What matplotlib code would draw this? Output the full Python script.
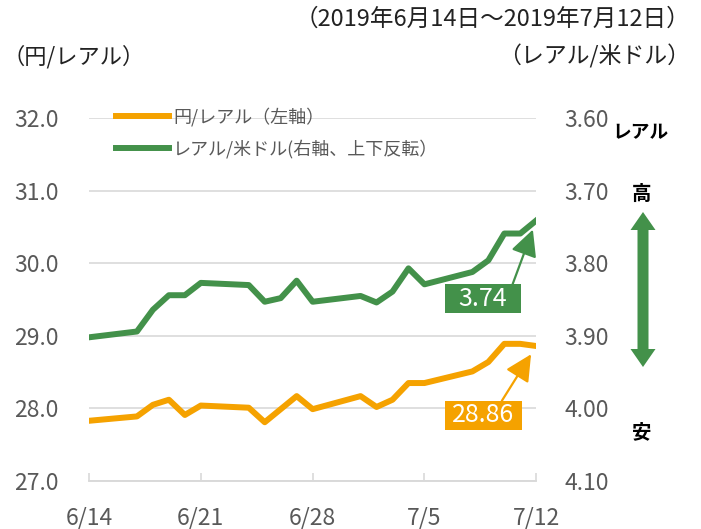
import matplotlib
matplotlib.use("Agg")
import matplotlib.pyplot as plt
import matplotlib.patches as mpatches
import pandas as pd

plt.rcParams['font.family'] = ['Noto Sans CJK JP', 'DejaVu Sans']

dates = ["2019-06-14", "2019-06-17", "2019-06-18", "2019-06-19", "2019-06-20", "2019-06-21",
         "2019-06-24", "2019-06-25", "2019-06-26", "2019-06-27", "2019-06-28",
         "2019-07-01", "2019-07-02", "2019-07-03", "2019-07-04", "2019-07-05",
         "2019-07-08", "2019-07-09", "2019-07-10", "2019-07-11", "2019-07-12"]
jpy_brl = [27.83, 27.89, 28.05, 28.12, 27.91, 28.04,
           28.01, 27.81, 27.99, 28.17, 27.99,
           28.17, 28.02, 28.12, 28.35, 28.35,
           28.51, 28.64, 28.89, 28.89, 28.86]
brl_usd = [3.902, 3.894, 3.864, 3.844, 3.844, 3.827,
           3.830, 3.853, 3.848, 3.824, 3.853,
           3.845, 3.854, 3.839, 3.807, 3.829,
           3.812, 3.796, 3.759, 3.759, 3.741]
xtick_dates = ["2019-06-14", "2019-06-21", "2019-06-28", "2019-07-05", "2019-07-12"]
xtick_labels = ["6/14", "6/21", "6/28", "7/5", "7/12"]
left_ticks = [27.0, 28.0, 29.0, 30.0, 31.0, 32.0]
right_ticks = [3.60, 3.70, 3.80, 3.90, 4.00, 4.10]

x = pd.to_datetime(dates)
xt = pd.to_datetime(xtick_dates)

ORANGE = '#F5A200'
GREEN = '#43914A'
GRAY = '#595959'
GRID = '#D9D9D9'

fig = plt.figure(figsize=(7.01, 5.29), dpi=100)
ax = fig.add_axes([0.127, 0.0907, 0.638, 0.686])
ax2 = ax.twinx()

l1, = ax.plot(x, jpy_brl, color=ORANGE, lw=4.3, solid_joinstyle='round', label='円/レアル（左軸）', zorder=3)
l2, = ax2.plot(x, brl_usd, color=GREEN, lw=4.3, solid_joinstyle='round', label='レアル/米ドル(右軸、上下反転）', zorder=3)

ax.set_ylim(27.0, 32.0)
ax2.set_ylim(4.10, 3.60)
ax.set_xlim(xt[0], xt[-1])
ax.set_yticks(left_ticks)
ax.set_yticklabels([f"{v:.1f}" for v in left_ticks])
ax2.set_yticks(right_ticks)
ax2.set_yticklabels([f"{v:.2f}" for v in right_ticks])
ax.set_xticks(xt)
ax.set_xticklabels(xtick_labels)

ax.grid(axis='y', color=GRID, lw=1.2)
ax.set_axisbelow(True)
for a in (ax, ax2):
    for s in ('top', 'left', 'right'):
        a.spines[s].set_visible(False)
    a.spines['bottom'].set_color(GRID)
    a.spines['bottom'].set_linewidth(1.2)
ax.tick_params(axis='y', length=0, labelsize=16.5, labelcolor=GRAY, pad=22)
ax2.tick_params(axis='y', length=0, labelsize=16.5, labelcolor=GRAY, pad=20)
ax.tick_params(axis='x', direction='in', length=6, color=GRID, width=1.2, labelsize=16.5, labelcolor=GRAY, pad=18)

leg = ax.legend(handles=[l1, l2], loc='upper left', bbox_to_anchor=(0.025, 1.075), frameon=False,
                fontsize=13, handlelength=2.9, handletextpad=0.25, labelspacing=0.75)
for t in leg.get_texts():
    t.set_color(GRAY)

# annotation boxes (axes fraction)
def label_box(axis, text, color, cx, cy, xy, start):
    w, h = 0.170, 0.080
    axis.add_patch(mpatches.Rectangle((cx - w / 2, cy - h / 2), w, h, transform=axis.transAxes,
                                      fc=color, ec='none', zorder=5))
    axis.text(cx, cy, text, transform=axis.transAxes, ha='center', va='center',
              fontsize=18, color='white', zorder=6)
    axis.annotate('', xy=xy, xytext=start, textcoords='axes fraction',
                  arrowprops=dict(arrowstyle='-|>,head_length=0.9,head_width=0.45', color=color,
                                  lw=1.6, mutation_scale=18, shrinkA=0, shrinkB=7), zorder=6)

label_box(ax2, '3.74', GREEN, 0.881, 0.502, (x[-1], brl_usd[-1]), (0.947, 0.542))
label_box(ax, '28.86', ORANGE, 0.882, 0.181, (x[-1], jpy_brl[-1]), (0.923, 0.221))

# titles
fig.text(0.985, 0.963, '（2019年6月14日～2019年7月12日）', ha='right', va='center', fontsize=17, color='#222222')
fig.text(0.003, 0.893, '（円/レアル）', ha='left', va='center', fontsize=16, color='#222222')
fig.text(0.985, 0.893, '（レアル/米ドル）', ha='right', va='center', fontsize=16.5, color='#222222')

# right-side explanation
fig.text(0.913, 0.75, 'レアル', ha='center', va='center', fontsize=13.5, fontweight='bold', color='black')
fig.text(0.915, 0.632, '高', ha='center', va='center', fontsize=14, fontweight='bold', color='black')
fig.text(0.915, 0.183, '安', ha='center', va='center', fontsize=14, fontweight='bold', color='black')

# double-headed arrow (pixel geometry converted to figure fraction)
W, H = 701.0, 529.0
cxp, top, bot = 643.0, 212.0, 367.0
hw, hl, sw = 12.5, 18.0, 5.5
pts = [(cxp, top), (cxp + hw, top + hl), (cxp + sw, top + hl), (cxp + sw, bot - hl), (cxp + hw, bot - hl),
       (cxp, bot), (cxp - hw, bot - hl), (cxp - sw, bot - hl), (cxp - sw, top + hl), (cxp - hw, top + hl)]
fig.patches.append(mpatches.Polygon([(px / W, 1 - py / H) for px, py in pts], closed=True,
                                    transform=fig.transFigure, fc=GREEN, ec='none'))

fig.savefig('out.png', dpi=100)
